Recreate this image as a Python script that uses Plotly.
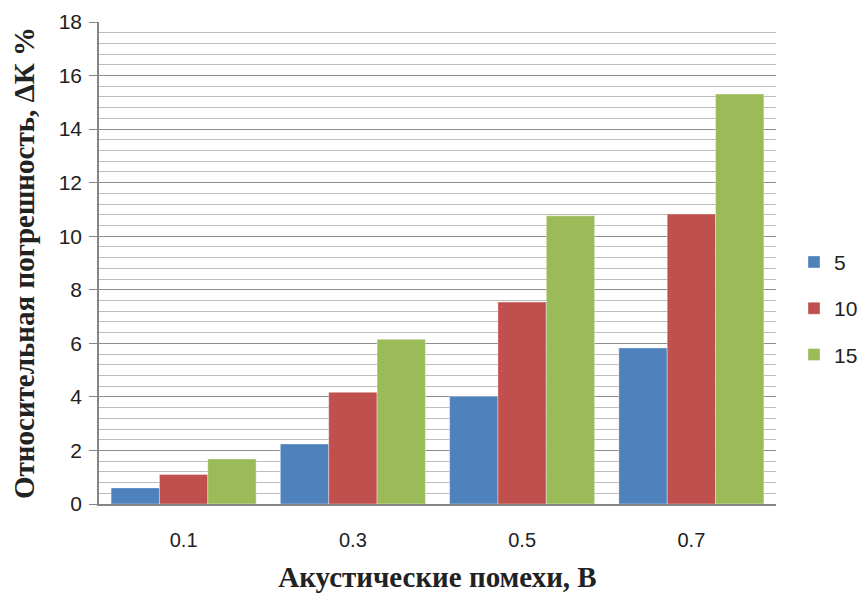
import plotly.graph_objects as go

categories = ["0.1", "0.3", "0.5", "0.7"]
series_names = ["5", "10", "15"]
values_5 = [0.60, 2.24, 4.02, 5.83]
values_10 = [1.10, 4.17, 7.54, 10.83]
values_15 = [1.68, 6.15, 10.76, 15.31]
colors = ["#4F81BD", "#C0504D", "#9BBB59"]

fig = go.Figure()
for name, vals, col in zip(series_names, [values_5, values_10, values_15], colors):
    fig.add_trace(go.Bar(x=categories, y=vals, name=name, legendgroup=name,
                         marker=dict(color=col, line=dict(color="rgba(255,255,255,0.6)", width=0.6))))

W, H = 852, 585
fig.update_layout(
    width=W, height=H,
    margin=dict(l=91, r=84, t=14, b=89),
    paper_bgcolor="white", plot_bgcolor="white",
    barmode="group", bargap=0.143, bargroupgap=0,
    font=dict(family="Liberation Sans, Arial, sans-serif", size=20, color="#222"),
    legend=dict(x=786 / W, xref="container", y=0.406, xanchor="left", yanchor="middle",
                font=dict(size=21), tracegroupgap=16, itemwidth=30,
                bgcolor="rgba(0,0,0,0)"),
    showlegend=True,
)
fig.update_xaxes(
    type="category", showline=True, linecolor="#868686", linewidth=1.5,
    ticks="", tickfont=dict(size=20), ticklabelstandoff=17, automargin=False,
    title=dict(text="<b>Акустические помехи, В</b>", font=dict(family="Liberation Serif, Times New Roman, serif", size=29, color="#222"), standoff=19),
)
fig.update_yaxes(
    range=[0, 18], dtick=2, showline=True, linecolor="#868686", linewidth=1.5,
    ticks="outside", ticklen=8, tickcolor="#868686", tickwidth=1.2,
    showgrid=True, gridcolor="#8c8c8c", gridwidth=1.3,
    minor=dict(dtick=0.4, showgrid=True, gridcolor="#bcbcbc", gridwidth=1.3),
    tickfont=dict(size=21), ticklabelstandoff=3, zeroline=False, automargin=False,
    title=dict(text="<b>Относительная погрешность, ΔК %</b>", font=dict(family="Liberation Serif, Times New Roman, serif", size=29, color="#222"), standoff=16),
)
fig.write_html("out.html")
